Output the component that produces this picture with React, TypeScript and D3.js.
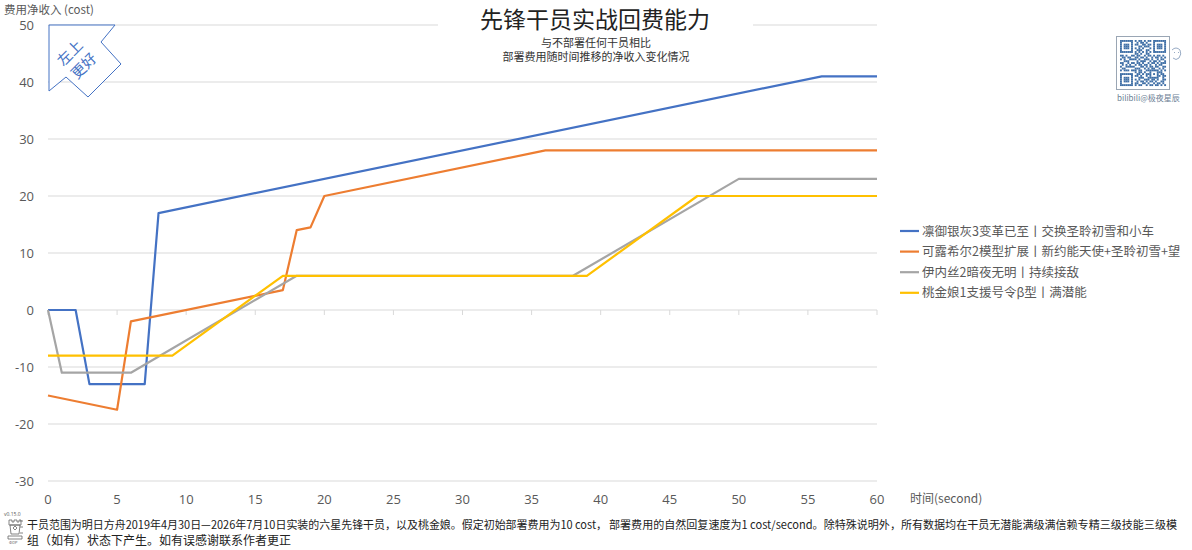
import React from "react";
import * as d3 from "d3";

const W = 1192;
const H = 550;

const xTicks = [0, 5, 10, 15, 20, 25, 30, 35, 40, 45, 50, 55, 60];
const yTicks = [-30, -20, -10, 0, 10, 20, 30, 40, 50];

const seriesNames = [
  "凛御银灰3变革已至丨交换圣聆初雪和小车",
  "可露希尔2模型扩展丨新约能天使+圣聆初雪+望",
  "伊内丝2暗夜无明丨持续接敌",
  "桃金娘1支援号令β型丨满潜能",
];
const seriesColors = ["#4472C4", "#ED7D31", "#A5A5A5", "#FFC000"];

const silverAshT = [0, 2, 3, 7, 8, 56, 60];
const silverAshV = [0, 0, -13, -13, 17, 41, 41];
const closureT = [0, 5, 6, 17, 18, 19, 20, 36, 60];
const closureV = [-15, -17.5, -2, 3.5, 14, 14.5, 20, 28, 28];
const inesT = [0, 1, 6, 18, 38, 50, 60];
const inesV = [0, -11, -11, 6, 6, 23, 23];
const myrtleT = [0, 9, 17, 39, 47, 60];
const myrtleV = [-8, -8, 6, 6, 20, 20];

const seriesT = [silverAshT, closureT, inesT, myrtleT];
const seriesV = [silverAshV, closureV, inesV, myrtleV];

const footerA = "干员范围为明日方舟2019年4月30日—2026年7月10日实装的六星先锋干员，以及桃金娘。假定初始部署费用为10 cost，";
const footerB = "部署费用的自然回复速度为1 cost/second。除特殊说明外，所有数据均在干员无潜能满级满信赖专精三级技能三级模";
const footerC = "组（如有）状态下产生。如有误感谢联系作者更正";

const qrRows = [
  "1111111010110101101111111",
  "1000001001011010001000001",
  "1011101011001101101011101",
  "1011101000110111001011101",
  "1011101010101000101011101",
  "1000001001110011001000001",
  "1111111010101010101111111",
  "0000000011010011000000000",
  "1101001101100101101011010",
  "0110110011011010010110101",
  "1010011110100111010010110",
  "0011100001011100101101001",
  "1100101101101001011010111",
  "0101010010110110100101100",
  "1001111100011010110110011",
  "0110000011100101011001010",
  "1011101110110011111110101",
  "0000000010110100100011100",
  "1111111001101011101010110",
  "1000001011010010100011011",
  "1011101000111001111110010",
  "1011101010100111011010011",
  "1011101001011010110100110",
  "1000001011001101001011010",
  "1111111010110010110110101",
];

const FONT = "'Noto Sans CJK SC', 'Noto Sans', sans-serif";
const NUMFONT = "'Open Sans', 'Noto Sans', sans-serif";

export default function App() {
  const x = d3.scaleLinear().domain([0, 60]).range([48, 877]);
  const y = d3.scaleLinear().domain([-30, 50]).range([481, 25]);
  const line = d3
    .line<[number, number]>()
    .x((d) => x(d[0]))
    .y((d) => y(d[1]));

  const qrX = 1120;
  const qrY = 40;
  const cell = 46 / 25;

  const arrowPts = [
    [49, 25],
    [115, 25],
    [101, 42],
    [121, 64],
    [88, 97],
    [66, 77],
    [49, 91],
  ];

  return (
    <div style={{ position: "absolute", left: 0, top: 0 }}>
      <svg width={W} height={H} style={{ display: "block", background: "#fff" }}>
        <rect width={W} height={H} fill="#fff" />
        {yTicks.map((t) => (
          <line
            key={"g" + t}
            x1={x(0)}
            x2={x(60)}
            y1={y(t)}
            y2={y(t)}
            stroke="#d9d9d9"
            strokeWidth={1}
          />
        ))}
        {xTicks.map((t) => (
          <line
            key={"xt" + t}
            x1={x(t)}
            x2={x(t)}
            y1={y(0)}
            y2={y(0) + 5}
            stroke="#d9d9d9"
            strokeWidth={1}
          />
        ))}
        {yTicks.map((t) => (
          <text
            key={"yl" + t}
            x={34}
            y={y(t) + 4.5}
            textAnchor="end"
            fontSize={13}
            fill="#595959"
            fontFamily={NUMFONT}
          >
            {t}
          </text>
        ))}
        {xTicks.map((t) => (
          <text
            key={"xl" + t}
            x={x(t)}
            y={504}
            textAnchor="middle"
            fontSize={13}
            fill="#595959"
            fontFamily={NUMFONT}
          >
            {t}
          </text>
        ))}
        <text x={910} y={503} fontSize={12} fill="#595959" fontFamily={FONT}>
          时间(second)
        </text>
        <text x={4} y={14} fontSize={11.5} fill="#595959" fontFamily={FONT}>
          费用净收入 (cost)
        </text>

        {seriesT.map((ts, i) => (
          <path
            key={"s" + i}
            d={line(ts.map((t, j) => [t, seriesV[i][j]]) as [number, number][]) || ""}
            fill="none"
            stroke={seriesColors[i]}
            strokeWidth={2.2}
            strokeLinejoin="round"
          />
        ))}

        <polygon
          points={arrowPts.map((p) => p.join(",")).join(" ")}
          fill="#fff"
          stroke="#4472C4"
          strokeWidth={1}
        />
        <g transform="translate(70,53) rotate(-45)">
          <text textAnchor="middle" y={5} fontSize={14.5} fill="#4472C4" fontFamily={FONT}>
            左上
          </text>
        </g>
        <g transform="translate(84,66) rotate(-45)">
          <text textAnchor="middle" y={5} fontSize={14.5} fill="#4472C4" fontFamily={FONT}>
            更好
          </text>
        </g>

        <rect x={438} y={4} width={315} height={30} fill="#fff" />
        <text x={595} y={28} textAnchor="middle" fontSize={23} fill="#222" fontFamily={FONT}>
          先锋干员实战回费能力
        </text>
        <text x={596} y={47} textAnchor="middle" fontSize={11} fill="#333" fontFamily={FONT}>
          与不部署任何干员相比
        </text>
        <text x={596} y={61} textAnchor="middle" fontSize={11} fill="#333" fontFamily={FONT}>
          部署费用随时间推移的净收入变化情况
        </text>

        {seriesNames.map((n, i) => (
          <g key={"lg" + i} transform={`translate(0, ${231 + i * 20.6})`}>
            <line x1={900} x2={919} y1={0} y2={0} stroke={seriesColors[i]} strokeWidth={2.2} />
            <text x={922} y={4.5} fontSize={12.5} fill="#595959" fontFamily={FONT}>
              {n}
            </text>
          </g>
        ))}

        <rect x={1116.5} y={36.5} width={53} height={53} fill="#fff" stroke="#9aa6b4" strokeWidth={1} />
        {qrRows.map((row, r) =>
          row.split("").map((c, k) =>
            c === "1" ? (
              <rect
                key={`q${r}-${k}`}
                x={qrX + k * cell}
                y={qrY + r * cell}
                width={cell + 0.05}
                height={cell + 0.05}
                fill="#3f6fa6"
              />
            ) : null
          )
        )}
        <path
          d="M1172,50 q4,-4 8,0 q2,4 -1,8 q-3,3 -6,0 M1174,52 l1,1 M1178,52 l1,1"
          fill="none"
          stroke="#7d95b5"
          strokeWidth={0.8}
        />
        <text x={1117} y={101} fontSize={8} fill="#6d7f96" fontFamily={FONT}>
          bilibili@极夜星辰
        </text>

        <text x={4} y={516} fontSize={5} fill="#555" fontFamily={NUMFONT}>
          v0.15.0
        </text>
        <g stroke="#666" strokeWidth={0.8} fill="none">
          <path d="M9,520 h3 v2 h2 v-2 h3 v2 h2 v-2 h2 v5 h-12 z" />
          <path d="M10,525 h10 l-1,9 h-8 z" />
          <path d="M13,528 l2,-2 l2,2 l-2,2 z" />
          <path d="M8,536 h14 v3 h-14 z" />
          <path d="M20,521 h3 M20,527 h3 M20,533 h3" />
        </g>
        <text x={9} y={544} fontSize={4} fill="#555" fontFamily={NUMFONT}>
          ΦDP
        </text>
        <text
          x={27}
          y={529}
          fontSize={11.2}
          fill="#222"
          fontFamily={FONT}
          textLength={580}
          lengthAdjust="spacingAndGlyphs"
        >
          {footerA}
        </text>
        <text
          x={609}
          y={529}
          fontSize={11.2}
          fill="#222"
          fontFamily={FONT}
          textLength={568}
          lengthAdjust="spacingAndGlyphs"
        >
          {footerB}
        </text>
        <text x={27} y={545} fontSize={12} fill="#222" fontFamily={FONT}>
          {footerC}
        </text>
      </svg>
    </div>
  );
}
